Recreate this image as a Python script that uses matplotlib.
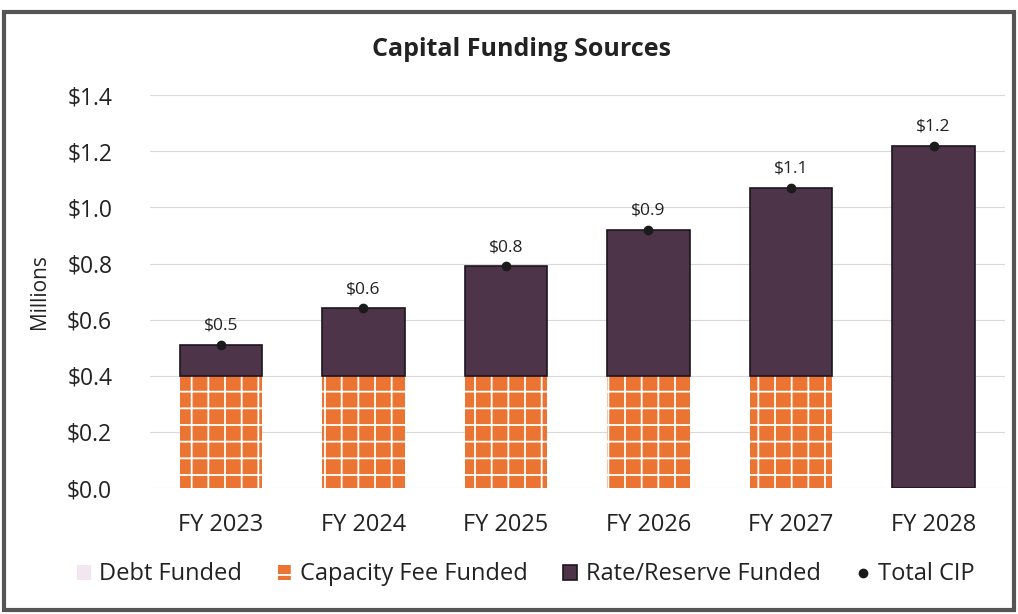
import matplotlib.pyplot as plt
import numpy as np
from matplotlib.patches import Rectangle

plt.rcParams['font.family'] = ['Open Sans', 'DejaVu Sans']
plt.rcParams['hatch.color'] = 'white'
plt.rcParams['hatch.linewidth'] = 1.3

years = ['FY 2023', 'FY 2024', 'FY 2025', 'FY 2026', 'FY 2027', 'FY 2028']
debt = [0, 0, 0, 0, 0, 0]
capacity = [0.40, 0.40, 0.40, 0.40, 0.40, 0.0]
total = [0.51, 0.64, 0.79, 0.92, 1.07, 1.22]
rate = [t - c - d for t, c, d in zip(total, capacity, debt)]
labels = ['$0.5', '$0.6', '$0.8', '$0.9', '$1.1', '$1.2']

fig = plt.figure(figsize=(10.18, 6.14), dpi=100)
ax = fig.add_axes([0.147, 0.205, 0.84, 0.64])

x = np.arange(len(years))
w = 0.58
b1 = ax.bar(x, debt, w, color='#F3E6F0', label='Debt Funded', zorder=2)
b2 = ax.bar(x, capacity, w, bottom=debt, color='#EC7433', hatch='+',
            edgecolor='white', linewidth=0, label='Capacity Fee Funded', zorder=2)
b3 = ax.bar(x, rate, w, bottom=np.add(debt, capacity), color='#4E3449',
            edgecolor='#1E1420', linewidth=1.2, label='Rate/Reserve Funded', zorder=2)
pts, = ax.plot(x, total, 'o', color='#1B1B1B', markersize=6, linestyle='none',
               label='Total CIP', zorder=4)

for xi, t, lab in zip(x, total, labels):
    ax.text(xi, t + 0.04, lab, ha='center', va='bottom', fontsize=12.5, color='#222222')

ax.set_ylim(0, 1.4)
ax.set_xlim(-0.5, 5.5)
ax.set_yticks(np.arange(0, 1.41, 0.2))
ax.set_yticklabels(['$%.1f' % v for v in np.arange(0, 1.41, 0.2)], fontsize=16.5)
ax.set_xticks(x)
ax.set_xticklabels(years, fontsize=17)
ax.tick_params(axis='x', length=0, pad=18, colors='#222222')
ax.tick_params(axis='y', length=0, pad=27, colors='#222222')
ax.grid(axis='y', color='#D9D9D9', linewidth=0.8, zorder=0)
for s in ax.spines.values():
    s.set_visible(False)
ax.set_ylabel('Millions', fontsize=15, labelpad=12, color='#222222')

fig.suptitle('Capital Funding Sources', x=0.512, y=0.94, fontsize=18,
             fontweight='bold', color='#222222')

ax.legend([b1, b2, b3, pts],
          ['Debt Funded', 'Capacity Fee Funded', 'Rate/Reserve Funded', 'Total CIP'],
          loc='upper center', bbox_to_anchor=(0.44, -0.135), ncol=4, frameon=False,
          fontsize=17, handlelength=0.6, handleheight=0.6, handletextpad=0.35,
          columnspacing=1.5, labelcolor='#222222')

fig.patches.append(Rectangle((0.004, 0.006), 0.992, 0.975, transform=fig.transFigure,
                             fill=False, edgecolor='#555555', linewidth=3))

fig.savefig('out.png', dpi=100)
